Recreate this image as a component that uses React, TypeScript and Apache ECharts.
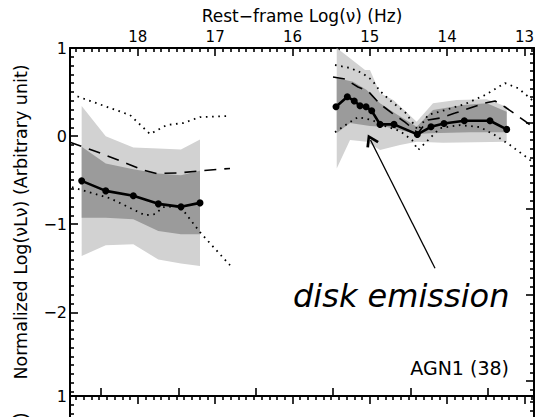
import React, { useEffect, useRef } from "react";
import * as echarts from "echarts";

// ---- axis setup ----
const LOG_C = 14.477; // log10(c in micron/s): log(lambda/um) = LOG_C - log(nu)
const NU_MIN = 12.877;
const NU_MAX = 18.877;
const Y_MIN = -2.95;
const Y_MAX = 1;

const nuTickLabels = [13, 14, 15, 16, 17, 18];
const lambdaTicks = [-4, -3, -2, -1, 0, 1];
const yTickLabels = [-2, -1, 0, 1];
const rightMajorTicks = [0.15, -0.827, -1.804, -2.781];

// ---- X-ray segment ----
const xrayNu = [18.726, 18.415, 18.058, 17.735, 17.442, 17.196];
const xrayMean = [-0.508, -0.622, -0.678, -0.769, -0.803, -0.758];
const xrayDarkHi = [-0.122, -0.31, -0.375, -0.424, -0.443, -0.394];
const xrayDarkLo = [-0.928, -0.928, -0.943, -1.076, -1.114, -1.114];
const xrayLightHi = [0.341, -0.003, -0.128, -0.14, -0.151, -0.038];
const xrayLightLo = [-1.36, -1.239, -1.227, -1.401, -1.447, -1.474];
const xrayDotUpper = [
  [18.78, 0.45], [18.101, 0.239], [17.842, 0.023], [17.627, 0.125],
  [17.416, 0.148], [17.196, 0.216], [16.834, 0.227],
];
const xrayDotLower = [
  [18.851, -0.58], [18.36, -0.705], [17.907, -0.898], [17.778, -0.886],
  [17.674, -0.807], [17.455, -0.795], [17.196, -1.091], [16.808, -1.466],
];
const xrayDash = [
  [18.877, -0.07], [18.532, -0.178], [18.144, -0.31], [17.929, -0.386],
  [17.756, -0.424], [17.455, -0.417], [17.196, -0.394], [16.808, -0.367],
];

// ---- optical / IR segment ----
const optMean = [
  [15.437, 0.333], [15.291, 0.447], [15.201, 0.398], [15.127, 0.344],
  [15.049, 0.333], [14.976, 0.288], [14.868, 0.133], [14.687, 0.133],
  [14.386, 0.019], [14.209, 0.106], [14.041, 0.144], [13.778, 0.174],
  [13.446, 0.174], [13.23, 0.076],
];
const optDarkHi = [
  [15.428, 0.659], [15.217, 0.617], [15.04, 0.523], [14.868, 0.372],
  [14.674, 0.258], [14.394, 0.106], [14.183, 0.295], [13.795, 0.352],
  [13.488, 0.372], [13.23, 0.276],
];
const optDarkLo = [
  [15.428, 0.034], [15.256, 0.15], [14.998, 0.114], [14.782, 0.102],
  [14.394, 0.023], [14.222, 0.031], [13.704, 0.045], [13.23, 0.045],
];
const optLightHi = [
  [15.428, 1.0], [15.256, 0.883], [15.062, 0.75], [14.998, 0.75],
  [14.868, 0.485], [14.696, 0.409], [14.394, 0.163], [14.183, 0.372],
  [13.876, 0.409], [13.488, 0.417], [13.23, 0.333],
];
const optLightLo = [
  [15.428, -0.367], [15.256, -0.045], [15.04, -0.065], [14.868, -0.159],
  [14.61, -0.102], [14.394, -0.065], [14.054, -0.076], [13.23, -0.065],
];
const optDash = [
  [15.476, 0.67], [15.321, 0.648], [15.153, 0.557], [15.023, 0.511],
  [14.868, 0.364], [14.713, 0.261], [14.545, 0.159], [14.377, 0.034],
  [14.248, 0.182], [14.092, 0.205], [13.898, 0.261], [13.704, 0.318],
  [13.51, 0.375], [13.381, 0.398], [13.252, 0.33], [13.122, 0.25],
  [12.993, 0.17], [12.877, 0.091],
];
const optDotUpper = [
  [15.45, 0.807], [15.256, 0.773], [15.101, 0.716], [14.972, 0.636],
  [14.868, 0.511], [14.713, 0.386], [14.545, 0.273], [14.377, 0.068],
  [14.248, 0.239], [14.028, 0.295], [13.769, 0.364], [13.51, 0.466],
  [13.252, 0.602], [13.084, 0.545], [12.929, 0.432], [12.877, 0.386],
];
const optDotLower = [
  [15.45, 0.045], [15.256, 0.159], [15.153, 0.216], [14.972, 0.182],
  [14.804, 0.114], [14.61, 0.057], [14.454, -0.045], [14.377, -0.159],
  [14.286, -0.08], [14.092, 0.091], [13.834, 0.125], [13.575, 0.102],
  [13.381, 0.011], [13.187, -0.102], [12.993, -0.227], [12.877, -0.307],
];

// annotation arrow (data coords): tail -> tip
const arrowTail = [14.157, -1.5];
const arrowTip = [14.991, -0.044];

const FONT = "DejaVu Sans";
const LIGHT = "#d2d2d2";
const DARK = "#9b9b9b";

function App() {
  const ref = useRef<HTMLDivElement>(null);

  useEffect(() => {
    document.body.style.margin = "0";
    if (!ref.current) return;
    const chart = echarts.init(ref.current, null, { renderer: "svg" });

    const zip = (xs: number[], ys: number[]) => xs.map((x, i) => [x, ys[i]]);
    const lambdaNu = lambdaTicks.map((l) => +(LOG_C - l).toFixed(3));
    const nuMinor: number[] = [];
    for (let k = 129; k <= 188; k++) if (k % 10 !== 0) nuMinor.push(k / 10);
    const yMinor: number[] = [];
    for (let k = -29; k <= 9; k++) if (k % 10 !== 0) yMinor.push(k / 10);
    const step = (rightMajorTicks[0] - rightMajorTicks[1]) / 10;
    const rMinor: number[] = [];
    for (let j = -40; j <= 10; j++) {
      const v = rightMajorTicks[0] + j * step;
      if (j % 10 !== 0 && v > Y_MIN && v < Y_MAX) rMinor.push(+v.toFixed(4));
    }

    const fmtY = (v: number) => (v < 0 ? "\u2212" + Math.abs(v) : String(v));
    const black = "#000";

    const baseX = (grid: number, pos: string, ticks: number[], len: number, line: boolean) => ({
      type: "value",
      gridIndex: grid,
      position: pos,
      min: NU_MIN,
      max: NU_MAX,
      inverse: true,
      splitLine: { show: false },
      axisLine: { show: line, onZero: false, lineStyle: { color: black, width: 2 } },
      axisTick: { show: true, inside: true, length: len, customValues: ticks, lineStyle: { color: black, width: 1.6 } },
      axisLabel: { show: false },
    });
    const baseY = (grid: number, pos: string, ticks: number[], len: number, line: boolean) => ({
      type: "value",
      gridIndex: grid,
      position: pos,
      min: Y_MIN,
      max: Y_MAX,
      splitLine: { show: false },
      axisLine: { show: line, onZero: false, lineStyle: { color: black, width: 2 } },
      axisTick: { show: true, inside: true, length: len, customValues: ticks, lineStyle: { color: black, width: 1.6 } },
      axisLabel: { show: false },
    });

    const yName = "Normalized Log(\u03bdL\u03bd) (Arbitrary unit)";

    const xTop0: any = baseX(0, "top", nuTickLabels, 8, true);
    xTop0.axisLabel = {
      show: true,
      customValues: nuTickLabels,
      fontSize: 15,
      fontFamily: FONT,
      color: black,
      margin: 4,
      formatter: (v: number) => String(Math.round(v)),
    };
    xTop0.name = "Rest\u2212frame Log(\u03bd) (Hz)";
    xTop0.nameLocation = "middle";
    xTop0.nameGap = 22;
    xTop0.nameTextStyle = { fontSize: 17, fontFamily: FONT, color: black };

    const mkLeft = (grid: number) => {
      const a: any = baseY(grid, "left", yTickLabels, 8, true);
      a.axisLabel = {
        show: true, customValues: yTickLabels, fontSize: 16, fontFamily: FONT, color: black, margin: 3, formatter: fmtY,
      };
      a.name = yName;
      a.nameLocation = "middle";
      a.nameGap = 40;
      a.nameTextStyle = { fontSize: 17.5, fontFamily: FONT, color: black };
      return a;
    };

    const band = (hi: number[][], lo: number[][], color: string) => ({
      type: "custom",
      coordinateSystem: "cartesian2d",
      xAxisIndex: 0,
      yAxisIndex: 0,
      silent: true,
      z: 1,
      data: [hi[0]],
      renderItem: (_p: any, api: any) => {
        const pts = hi.map((p) => api.coord(p)).concat(lo.slice().reverse().map((p) => api.coord(p)));
        return { type: "polygon", shape: { points: pts }, style: { fill: color, stroke: null } };
      },
    });

    const line = (data: number[][], dash: any, width: number, extra: any = {}) => ({
      type: "line",
      xAxisIndex: 0,
      yAxisIndex: 0,
      data,
      symbol: "none",
      silent: true,
      z: 3,
      lineStyle: { color: black, width, type: dash },
      ...extra,
    });

    const DOT = [1.6, 4.6];
    const DASH = [12, 8];

    const option: any = {
      animation: false,
      backgroundColor: "#fff",
      textStyle: { fontFamily: FONT },
      grid: [
        { left: 70, top: 48, width: 464, height: 348, outerBoundsMode: "none", containLabel: false },
        { left: 70, top: 396, width: 464, height: 348, outerBoundsMode: "none", containLabel: false },
      ],
      xAxis: [
        xTop0,
        baseX(0, "top", nuMinor, 4, false),
        baseX(0, "bottom", lambdaNu, 8, true),
        baseX(1, "top", nuTickLabels, 8, true),
        baseX(1, "top", nuMinor, 4, false),
      ],
      yAxis: [
        mkLeft(0),
        baseY(0, "left", yMinor, 4, false),
        baseY(0, "right", rightMajorTicks, 8, true),
        baseY(0, "right", rMinor, 4, false),
        mkLeft(1),
        baseY(1, "left", yMinor, 4, false),
        baseY(1, "right", rightMajorTicks, 8, true),
        baseY(1, "right", rMinor, 4, false),
      ],
      series: [
        band(zip(xrayNu, xrayLightHi), zip(xrayNu, xrayLightLo), LIGHT),
        band(zip(xrayNu, xrayDarkHi), zip(xrayNu, xrayDarkLo), DARK),
        band(optLightHi, optLightLo, LIGHT),
        band(optDarkHi, optDarkLo, DARK),
        line(xrayDotUpper, DOT, 1.8),
        line(xrayDotLower, DOT, 1.8),
        line(xrayDash, DASH, 1.6),
        line(optDotUpper, DOT, 1.8),
        line(optDotLower, DOT, 1.8),
        line(optDash, DASH, 1.6),
        line(zip(xrayNu, xrayMean), "solid", 2.6, { symbol: "circle", symbolSize: 7, itemStyle: { color: black } }),
        line(optMean, "solid", 2.6, {
          symbol: "circle",
          symbolSize: 7,
          itemStyle: { color: black },
          markLine: {
            silent: true,
            animation: false,
            symbol: ["none", "path://M5,0 L10,9 L8.3,10.2 L5,4 L1.7,10.2 L0,9 Z"],
            symbolSize: [14, 12],
            label: { show: false },
            lineStyle: { color: black, width: 1.3, type: "solid" },
            data: [[{ coord: arrowTail }, { coord: arrowTip }]],
          },
        }),
      ],
      graphic: [
        {
          type: "text",
          x: 293,
          y: 296,
          style: {
            text: "disk emission",
            font: `italic 32px "${FONT}"`,
            fill: black,
            textAlign: "left",
            textVerticalAlign: "middle",
          },
        },
        {
          type: "text",
          x: 509,
          y: 368,
          style: {
            text: "AGN1 (38)",
            font: `19px "${FONT}"`,
            fill: black,
            textAlign: "right",
            textVerticalAlign: "middle",
          },
        },
      ],
    };

    chart.setOption(option);
    return () => chart.dispose();
  }, []);

  return <div ref={ref} style={{ width: 540, height: 417 }} />;
}

export default App;
